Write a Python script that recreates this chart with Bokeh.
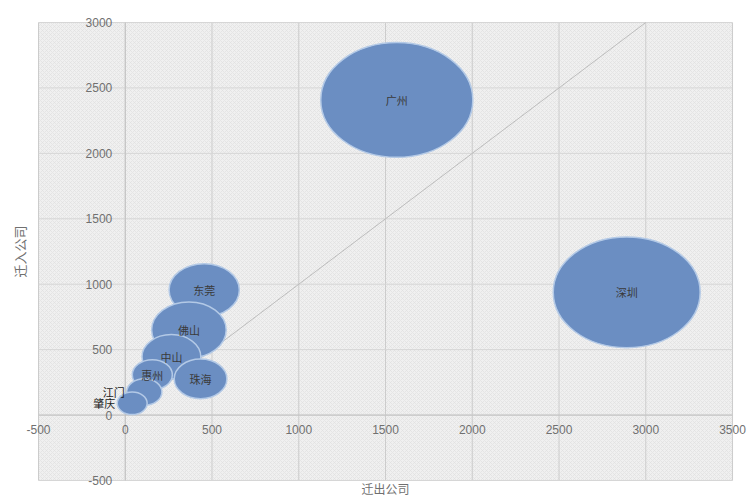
import numpy as np
from bokeh.plotting import figure
from bokeh.models import ColumnDataSource, BoxAnnotation
from bokeh.core.properties import value
from bokeh.embed import file_html
from bokeh.resources import INLINE

# ---- data ----
cities = ["广州", "深圳", "东莞", "佛山", "中山", "惠州", "珠海", "江门", "肇庆"]
moved_out = [1565, 2890, 455, 367, 266, 156, 434, 110, 40]      # 迁出公司 (x)
moved_in = [2408, 938, 955, 650, 446, 308, 277, 177, 90]        # 迁入公司 (y)
bubble_value = [750, 700, 160, 180, 112, 52, 90, 40, 29]        # bubble size value
label_side = ["center"] * 7 + ["left", "left"]

x_ticks = [-500, 0, 500, 1000, 1500, 2000, 2500, 3000, 3500]
y_ticks = [-500, 0, 500, 1000, 1500, 2000, 2500, 3000]
diag_x = [0, 3000]
diag_y = [0, 3000]

x_title = "迁出公司"
y_title = "迁入公司"

# ---- derived ----
diam = [float(np.sqrt(v)) * 32 for v in bubble_value]
x0, x1 = x_ticks[0], x_ticks[-1]
y0, y1 = y_ticks[0], y_ticks[-1]

src = ColumnDataSource(dict(x=moved_out, y=moved_in, d=diam, name=cities))

c_idx = [i for i, s in enumerate(label_side) if s == "center"]
l_idx = [i for i, s in enumerate(label_side) if s == "left"]
lab_c = ColumnDataSource(dict(x=[moved_out[i] for i in c_idx],
                              y=[moved_in[i] for i in c_idx],
                              t=[cities[i] for i in c_idx]))
lab_l = ColumnDataSource(dict(x=[moved_out[i] - diam[i] / 2 for i in l_idx],
                              y=[moved_in[i] for i in l_idx],
                              t=[cities[i] for i in l_idx]))

# frame covers the whole canvas; the plot area is the tick extent
p = figure(width=752, height=499, x_range=(-719, 3615), y_range=(-645, 3168),
           output_backend="svg", toolbar_location=None,
           min_border=0)
p.axis.visible = False
p.grid.visible = False
p.outline_line_color = None
p.background_fill_color = "white"
p.border_fill_color = "white"

bg = BoxAnnotation(left=x0, right=x1, bottom=y0, top=y1,
                   fill_color="#f0f0f0", fill_alpha=1.0,
                   hatch_pattern="x", hatch_color="#dddddd", hatch_scale=4,
                   hatch_weight=0.6, hatch_alpha=1.0, line_color=None,
                   level="image")
p.add_layout(bg)

# grid lines
p.segment(x0=x_ticks, y0=[y0] * len(x_ticks), x1=x_ticks, y1=[y1] * len(x_ticks),
          line_color="#cccccc", line_width=1)
p.segment(x0=[x0] * len(y_ticks), y0=y_ticks, x1=[x1] * len(y_ticks), y1=y_ticks,
          line_color="#d6d6d6", line_width=1)
# axis lines through zero
p.segment(x0=[0, x0], y0=[y0, 0], x1=[0, x1], y1=[y1, 0],
          line_color="#c2c2c2", line_width=1)

# tick labels
tick_font = value("Liberation Sans")
p.text(x=x_ticks, y=[0] * len(x_ticks), text=[str(v) for v in x_ticks],
       text_align="center", text_baseline="middle", y_offset=14,
       text_font=tick_font, text_font_size="12px", text_color="#707070")
p.text(x=[0] * len(y_ticks), y=y_ticks, text=[str(v) for v in y_ticks],
       text_align="right", text_baseline="middle", x_offset=-13,
       text_font=tick_font, text_font_size="12px", text_color="#707070")

# axis titles
p.text(x=[(x0 + x1) / 2], y=[y0], text=[x_title], text_align="center",
       text_baseline="middle", y_offset=8,
       text_font=value("Noto Sans CJK SC"), text_font_size="12px",
       text_color="#707070")
p.text(x=[x0], y=[(y0 + y1) / 2], text=[y_title], text_align="center",
       text_baseline="middle", x_offset=-19, angle=np.pi / 2,
       text_font=value("Noto Sans CJK SC"), text_font_size="13px",
       text_color="#707070")

# diagonal reference line
p.line(diag_x, diag_y, line_color="#bcbcbc", line_width=1)

# bubbles
p.ellipse(x="x", y="y", width="d", height="d", source=src,
          fill_color="#6b8ec2", fill_alpha=1.0,
          line_color="#b3c9e6", line_width=1.5)

p.text(x="x", y="y", text="t", source=lab_c, text_align="center",
       text_baseline="middle", text_font=value("Noto Sans CJK SC"),
       text_font_size="11px", text_color="#3a3a3a")
p.text(x="x", y="y", text="t", source=lab_l, text_align="right",
       text_baseline="middle", text_font=value("Noto Sans CJK SC"),
       text_font_size="11px", text_color="#222222", x_offset=-2)

open("out.html", "w").write(file_html(p, INLINE))
